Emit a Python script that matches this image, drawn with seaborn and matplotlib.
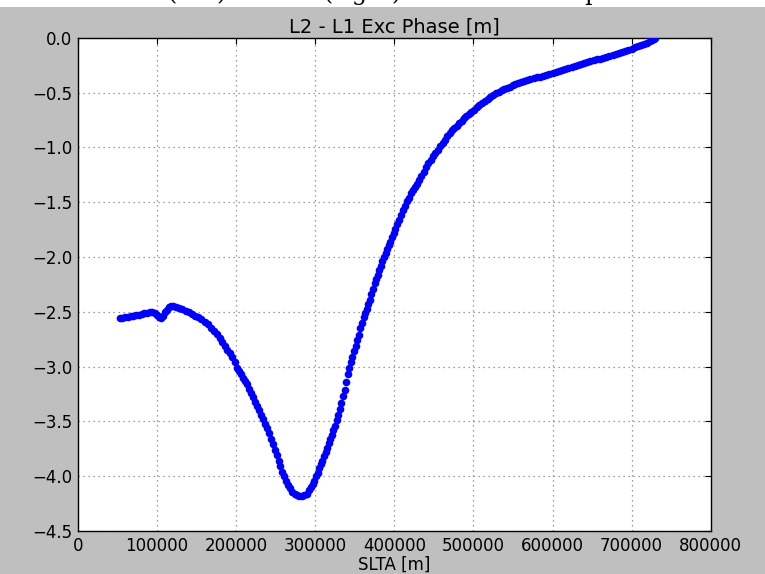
import matplotlib
matplotlib.use("Agg")
import matplotlib.pyplot as plt
import seaborn as sns
import pandas as pd

# SLTA [m] and L2 - L1 excess phase [m]
slta_left = [53000, 56000, 59500, 63000, 66500, 70000, 73500, 77000, 80500, 84000,
             87500, 91000, 94000, 97000, 100000, 102500, 104500, 107000, 109500,
             112000, 114500, 117000]
phase_left = [-2.560, -2.555, -2.550, -2.545, -2.540, -2.535, -2.530, -2.525, -2.520, -2.515,
              -2.510, -2.505, -2.503, -2.510, -2.530, -2.550, -2.560, -2.535, -2.505,
              -2.480, -2.460, -2.450]

slta_hump = [120000, 124000, 128000, 132000, 136000, 140000, 144000, 148000, 152000, 156000,
             160000, 164000, 168000, 172000, 175500, 179000, 182500, 186000, 189000, 192000,
             195000, 198000]
phase_hump = [-2.450, -2.455, -2.465, -2.475, -2.490, -2.505, -2.520, -2.535, -2.550, -2.570,
              -2.590, -2.615, -2.645, -2.675, -2.705, -2.740, -2.775, -2.810, -2.845, -2.880,
              -2.915, -2.955]

slta_down = [201000, 203500, 206000, 208500, 211000, 213500, 216000, 218500, 221000, 223500,
             226000, 228500, 231000, 233500, 236000, 238500, 241000, 243500, 246000, 248500,
             251000, 253500, 256000, 258500, 261000, 263500, 266000, 268500, 271000, 274000,
             277000, 280000, 283000]
phase_down = [-3.01, -3.04, -3.07, -3.10, -3.13, -3.16, -3.20, -3.24, -3.28, -3.32,
              -3.36, -3.40, -3.44, -3.48, -3.52, -3.56, -3.61, -3.66, -3.71, -3.76,
              -3.81, -3.86, -3.91, -3.96, -4.00, -4.04, -4.08, -4.11, -4.14, -4.16,
              -4.175, -4.185, -4.185]

slta_up = [286000, 289000, 292000, 294500, 297000, 299000, 301000, 303000, 305000, 307000,
           309000, 311000, 313000, 315000, 317000, 319000, 321000, 323000, 325000, 327000,
           329000, 331000, 333000, 335000, 337000, 339000, 341000, 343000, 345000, 347000,
           349000, 351000, 353000, 355000, 357000, 359000, 361000, 363000, 365000, 367000,
           369000, 371000, 373000, 375000, 377000, 379000, 381000, 383000, 385000, 387000,
           389000, 391000, 393000, 395000, 397000, 399000]
phase_up = [-4.175, -4.16, -4.13, -4.10, -4.07, -4.04, -4.00, -3.97, -3.93, -3.89,
            -3.86, -3.82, -3.78, -3.74, -3.70, -3.66, -3.62, -3.58, -3.54, -3.49,
            -3.44, -3.39, -3.33, -3.27, -3.21, -3.14, -3.07, -3.01, -2.96, -2.91,
            -2.86, -2.81, -2.76, -2.71, -2.65, -2.60, -2.55, -2.51, -2.47, -2.43,
            -2.39, -2.34, -2.29, -2.24, -2.20, -2.16, -2.12, -2.08, -2.04, -2.00,
            -1.96, -1.93, -1.89, -1.86, -1.82, -1.78]

slta_bend = [401000, 403500, 406000, 408500, 411000, 413500, 416000, 418500, 421000, 423500,
             426000, 428500, 431000, 434000, 437000, 440000, 443000, 446000, 449000, 452000,
             455000, 458000]
phase_bend = [-1.74, -1.70, -1.66, -1.62, -1.57, -1.53, -1.49, -1.46, -1.42, -1.39,
              -1.36, -1.33, -1.30, -1.26, -1.22, -1.18, -1.14, -1.11, -1.08, -1.05,
              -1.02, -0.99]

slta_tail = [461000, 464000, 467000, 470000, 473000, 476000, 479000, 482000, 485000, 488000,
             491000, 494000, 497000, 500500, 504000, 507500, 511000, 514500, 518000, 521500,
             525000, 528500, 532000, 535500, 539000, 542500, 546000, 549500, 553000, 556500,
             560000, 564000, 568000, 572000, 576000, 580000, 584000, 588000, 592000, 596000,
             600000, 604000, 608000, 612000, 616000, 620000, 624000, 628000, 632000, 636000,
             640000, 644000, 648000, 652000, 656000, 660000, 664000, 668000, 672000, 676000,
             680000, 684000, 688000, 692000, 696000, 700000, 704000, 708000, 712000, 716000,
             720000, 723000, 726000, 728000, 730000]
phase_tail = [-0.96, -0.93, -0.90, -0.87, -0.845, -0.82, -0.80, -0.775, -0.755, -0.735,
              -0.715, -0.695, -0.675, -0.655, -0.635, -0.615, -0.595, -0.575, -0.555, -0.54,
              -0.52, -0.505, -0.49, -0.478, -0.466, -0.455, -0.444, -0.434, -0.424, -0.415,
              -0.406, -0.396, -0.387, -0.378, -0.369, -0.361, -0.353, -0.345, -0.337, -0.329,
              -0.320, -0.311, -0.302, -0.292, -0.282, -0.272, -0.263, -0.254, -0.245, -0.237,
              -0.229, -0.221, -0.213, -0.205, -0.197, -0.189, -0.180, -0.171, -0.163, -0.155,
              -0.147, -0.139, -0.130, -0.121, -0.110, -0.098, -0.087, -0.076, -0.065, -0.054,
              -0.043, -0.033, -0.022, -0.012, -0.003]

x_ticks = [0, 100000, 200000, 300000, 400000, 500000, 600000, 700000, 800000]
y_ticks = [0.0, -0.5, -1.0, -1.5, -2.0, -2.5, -3.0, -3.5, -4.0, -4.5]

df = pd.DataFrame({
    "slta": slta_left + slta_hump + slta_down + slta_up + slta_bend + slta_tail,
    "phase": phase_left + phase_hump + phase_down + phase_up + phase_bend + phase_tail,
})

sns.set_style("white")
plt.rcParams["font.family"] = ["DejaVu Sans"]
plt.rcParams["text.color"] = "black"
plt.rcParams["axes.labelcolor"] = "black"

fig = plt.figure(figsize=(7.65, 5.74), dpi=100, facecolor="#bfbfbf")
ax = fig.add_axes([0.102, 0.075, 0.827, 0.859])
ax.set_facecolor("white")

# white strip + clipped caption text from the page above the figure
fig.patches.append(plt.Rectangle((0, 1 - 7 / 574), 1, 7 / 574, transform=fig.transFigure,
                                 facecolor="white", edgecolor="none", zorder=0))
fig.text(0.22, 1.0, "(left) and L1 (right) and L2 excess phase", family="serif",
         fontsize=17, va="baseline", ha="left", color="black")

sns.scatterplot(data=df, x="slta", y="phase", ax=ax, color="blue", marker="o",
                s=30, linewidth=0, zorder=3, legend=False)

ax.set_xlim(0, 800000)
ax.set_ylim(-4.5, 0.0)
ax.set_xticks(x_ticks)
ax.set_yticks(y_ticks)
ax.set_xticklabels([str(t) for t in x_ticks])
ax.set_yticklabels(["%.1f" % t if t == 0 else "\u2212%.1f" % abs(t) for t in y_ticks])
ax.tick_params(direction="in", length=4, width=0.8, top=True, right=True,
               labelsize=12, colors="black", pad=4)
ax.grid(True, color="#808080", linestyle=(0, (1, 3)), linewidth=0.9)
for sp in ax.spines.values():
    sp.set_color("black")
    sp.set_linewidth(1.0)

ax.set_title("L2 - L1 Exc Phase [m]", fontsize=14, pad=4, color="black")
ax.set_xlabel("SLTA [m]", fontsize=12, labelpad=1)
ax.set_ylabel("")

fig.savefig("out.png", dpi=100, facecolor=fig.get_facecolor())
